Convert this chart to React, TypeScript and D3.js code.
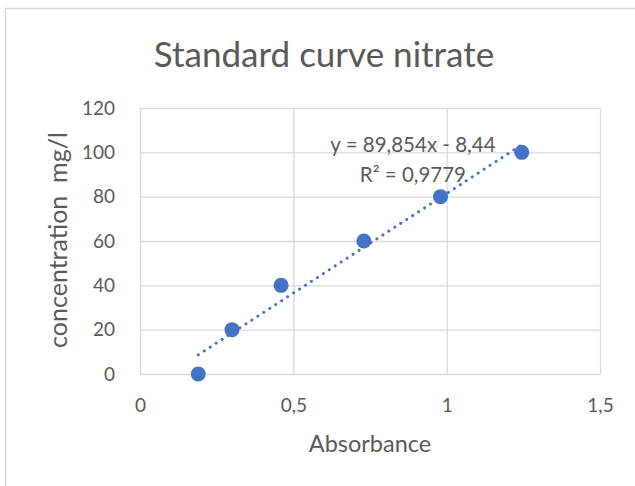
import React, { useEffect, useRef } from "react";
import * as d3 from "d3";

const absorbance = [0.19, 0.3, 0.46, 0.73, 0.98, 1.245];
const concentration = [0, 20, 40, 60, 80, 100];
const xTicks = [0, 0.5, 1, 1.5];
const yTicks = [0, 20, 40, 60, 80, 100, 120];
const slope = 89.854;
const intercept = -8.44;
const equationLines = ["y = 89,854x - 8,44", "R² = 0,9779"];

const W = 635;
const H = 486;
const FONT = "Lato, 'Open Sans', sans-serif";
const TEXT = "#595959";
const GRID = "#d9d9d9";
const BLUE = "#4472c4";

export default function App() {
  const svgRef = useRef<SVGSVGElement>(null);

  useEffect(() => {
    if (!svgRef.current) return;
    const svg = d3.select(svgRef.current);
    svg.selectAll("*").remove();

    const margin = { top: 108, right: 35, bottom: 112, left: 140 };
    const w = W - margin.left - margin.right;
    const h = H - margin.top - margin.bottom;

    // chart area border
    svg
      .append("rect")
      .attr("x", 5.5)
      .attr("y", 8.5)
      .attr("width", W + 10)
      .attr("height", H + 10)
      .attr("fill", "#fff")
      .attr("stroke", GRID)
      .attr("stroke-width", 1.5);

    const x = d3.scaleLinear().domain([0, 1.5]).range([0, w]);
    const y = d3.scaleLinear().domain([0, 120]).range([h, 0]);

    const g = svg
      .append("g")
      .attr("transform", `translate(${margin.left},${margin.top})`);

    // gridlines
    g.append("g")
      .call(d3.axisLeft(y).tickValues(yTicks).tickSize(-w).tickFormat(() => ""))
      .call((s) => s.select(".domain").remove())
      .selectAll("line")
      .attr("stroke", GRID)
      .attr("stroke-width", 1.3);

    g.append("g")
      .attr("transform", `translate(0,${h})`)
      .call(d3.axisBottom(x).tickValues(xTicks).tickSize(-h).tickFormat(() => ""))
      .call((s) => s.select(".domain").remove())
      .selectAll("line")
      .attr("stroke", GRID)
      .attr("stroke-width", 1.3);

    // tick labels
    const fmt = (v: number) => String(v).replace(".", ",");
    g.append("g")
      .attr("transform", `translate(0,${h})`)
      .call(d3.axisBottom(x).tickValues(xTicks).tickSize(0).tickPadding(25).tickFormat((d) => fmt(d as number)))
      .call((s) => s.select(".domain").remove())
      .selectAll("text")
      .attr("fill", TEXT)
      .style("font-family", FONT)
      .style("font-size", "19px");

    g.append("g")
      .call(d3.axisLeft(y).tickValues(yTicks).tickSize(0).tickPadding(25).tickFormat((d) => fmt(d as number)))
      .call((s) => s.select(".domain").remove())
      .selectAll("text")
      .attr("fill", TEXT)
      .style("font-family", FONT)
      .style("font-size", "19px");

    // trendline
    const xMin = d3.min(absorbance) as number;
    const xMax = d3.max(absorbance) as number;
    g.append("line")
      .attr("x1", x(xMin))
      .attr("y1", y(slope * xMin + intercept))
      .attr("x2", x(xMax))
      .attr("y2", y(slope * xMax + intercept))
      .attr("stroke", BLUE)
      .attr("stroke-width", 3)
      .attr("stroke-linecap", "round")
      .attr("stroke-dasharray", "0.1 7");

    // points
    g.selectAll(".dot")
      .data(absorbance)
      .enter()
      .append("circle")
      .attr("class", "dot")
      .attr("cx", (d) => x(d))
      .attr("cy", (_d, i) => y(concentration[i]))
      .attr("r", 7.5)
      .attr("fill", BLUE);

    // equation label
    const eqX = x(0.89);
    const eq = g
      .append("text")
      .attr("x", eqX)
      .attr("y", 152 - margin.top)
      .attr("text-anchor", "middle")
      .attr("fill", TEXT)
      .style("font-family", FONT)
      .style("font-size", "20.5px");
    equationLines.forEach((t, i) => {
      eq.append("tspan")
        .attr("x", eqX)
        .attr("dy", i === 0 ? 0 : 30)
        .text(t);
    });

    // title
    svg
      .append("text")
      .attr("x", 324)
      .attr("y", 67)
      .attr("text-anchor", "middle")
      .attr("fill", TEXT)
      .style("font-family", FONT)
      .style("font-size", "35px")
      .text("Standard curve nitrate");

    // axis titles
    svg
      .append("text")
      .attr("x", 370)
      .attr("y", 452)
      .attr("text-anchor", "middle")
      .attr("fill", TEXT)
      .style("font-family", FONT)
      .style("font-size", "23.5px")
      .text("Absorbance");

    svg
      .append("text")
      .attr("transform", `translate(67,240) rotate(-90)`)
      .attr("text-anchor", "middle")
      .attr("fill", TEXT)
      .style("font-family", FONT)
      .style("font-size", "25px")
      .style("white-space", "pre")
      .text("concentration  mg/l");
  }, []);

  return (
    <svg
      ref={svgRef}
      width={W}
      height={H}
      style={{ position: "absolute", left: 0, top: 0, display: "block" }}
    />
  );
}
